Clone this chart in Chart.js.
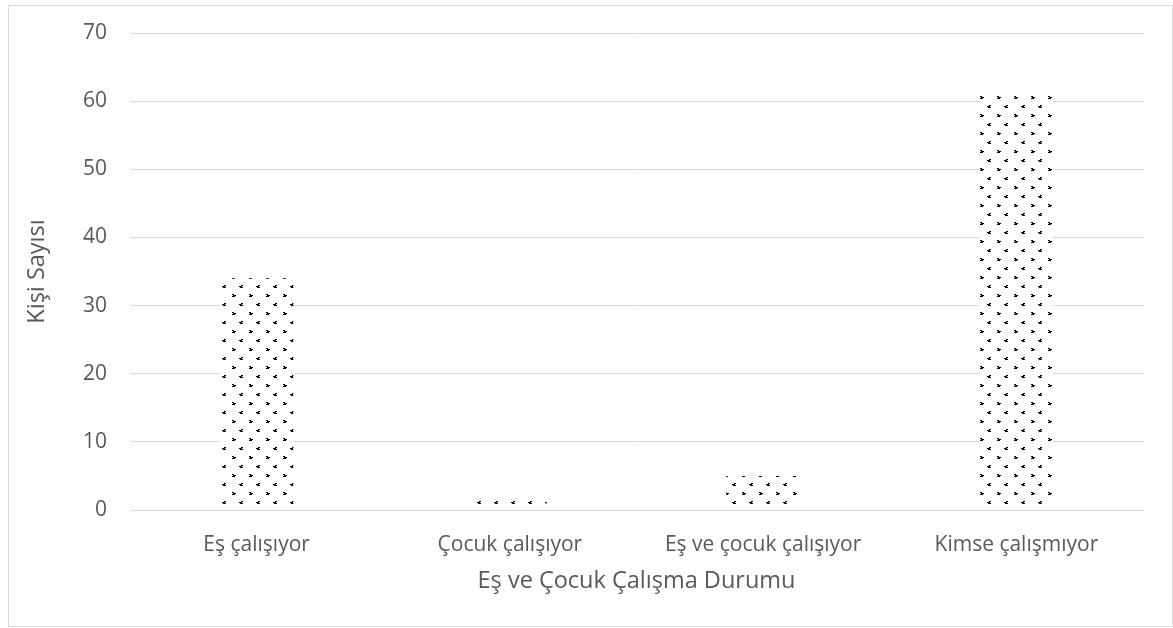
<!DOCTYPE html>
<html lang="tr">
<head>
<meta charset="UTF-8">
<title>Eş ve Çocuk Çalışma Durumu</title>
<script src="https://cdn.jsdelivr.net/npm/chart.js"></script>
<style>
  body { margin: 0; background: #fff; }
  .frame {
    position: absolute;
    left: 8px; top: 5px;
    width: 1163px; height: 620px;
    border: 1px solid #d9d9d9;
  }
  canvas { display: block; }
</style>
</head>
<body>
<div class="frame"><canvas id="chart" width="1163" height="620"></canvas></div>
<script>
const categories = ['Eş çalışıyor', 'Çocuk çalışıyor', 'Eş ve çocuk çalışıyor', 'Kimse çalışmıyor'];
const counts = [34, 2, 5, 61];
const yTitle = 'Kişi Sayısı';
const xTitle = 'Eş ve Çocuk Çalışma Durumu';

// small dotted fill like the office pattern
function dotPattern() {
  const c = document.createElement('canvas');
  c.width = 17; c.height = 18;
  const g = c.getContext('2d');
  g.fillStyle = '#fff';
  g.fillRect(0, 0, 17, 18);
  g.fillStyle = '#000';
  // ">" mark
  g.fillRect(2, 0, 2, 1);
  g.fillRect(3, 1, 3, 1);
  g.fillRect(2, 2, 3, 1);
  // "c" mark
  g.fillRect(11, 9, 2, 1);
  g.fillRect(9, 10, 3, 1);
  g.fillRect(10, 11, 3, 1);
  return g.createPattern(c, 'repeat');
}

const ctx = document.getElementById('chart').getContext('2d');
const tickFont = { family: "'Open Sans', sans-serif", size: 21 };
const titleFont = { family: "'Open Sans', sans-serif", size: 23.5 };

new Chart(ctx, {
  type: 'bar',
  data: {
    labels: categories,
    datasets: [{
      data: counts,
      backgroundColor: dotPattern(),
      borderWidth: 0,
      categoryPercentage: 1,
      barPercentage: 0.29
    }]
  },
  options: {
    responsive: false,
    animation: false,
    layout: { padding: { top: 27, right: 29, left: 0, bottom: 0 } },
    plugins: { legend: { display: false }, tooltip: { enabled: false } },
    scales: {
      x: {
        grid: { display: false, drawTicks: false },
        border: { display: true, color: '#d9d9d9' },
        ticks: { color: '#595959', font: tickFont, padding: 22, maxRotation: 0 },
        title: { display: true, text: xTitle, color: '#595959', font: titleFont, padding: { bottom: 31 } },
        afterFit: s => { s.height = 116; }
      },
      y: {
        min: 0, max: 70,
        ticks: { stepSize: 10, color: '#595959', font: tickFont, padding: 23 },
        grid: { color: '#d9d9d9', drawTicks: false },
        border: { display: false },
        title: { display: true, text: yTitle, color: '#595959', font: titleFont, padding: { top: 14 } },
        afterFit: s => { s.width = 121; s.paddingTop = 0; s.paddingBottom = 0; }
      }
    }
  }
});
</script>
</body>
</html>
